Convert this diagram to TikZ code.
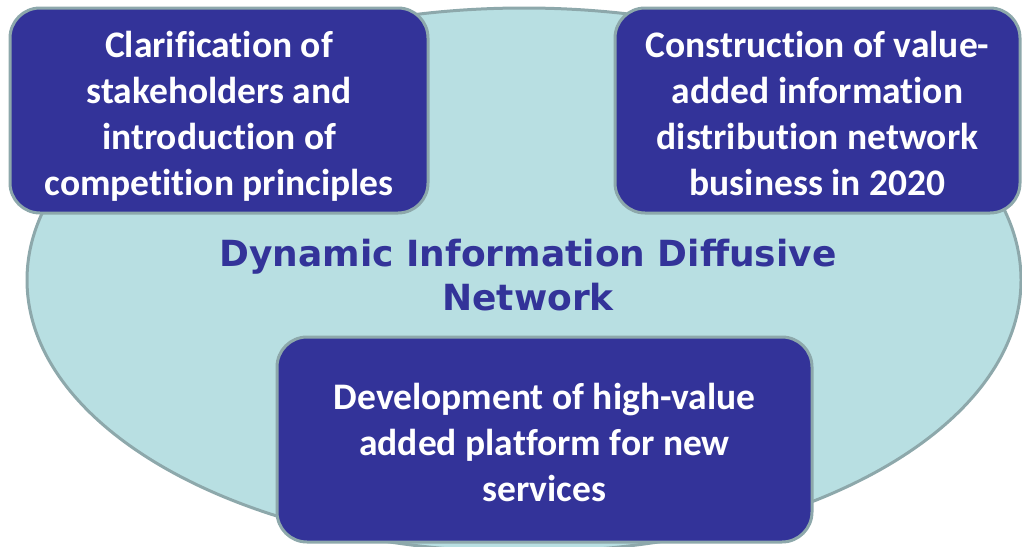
\documentclass[tikz,border=0pt]{standalone}
\usepackage{fontspec}
\usetikzlibrary{shapes.geometric}
\newfontfamily\boxfont[Ligatures={NoCommon,NoRequired,NoContextual}]{Carlito}
\newfontfamily\midfont{DejaVu Sans}
\definecolor{boxblue}{HTML}{333399}
\definecolor{rimgrey}{HTML}{8DA8AB}
\definecolor{pale}{HTML}{B8DFE2}
\tikzset{
  cloud/.style={ellipse, draw=rimgrey, fill=pale, line width=3pt, inner sep=0pt},
  bluebox/.style={rectangle, rounded corners=30pt, draw=rimgrey, fill=boxblue, line width=3pt,
    inner sep=0pt, text=white, align=center,
    font=\boxfont\bfseries\fontsize{37.5}{46}\selectfont},
  midtext/.style={text=boxblue, align=center, inner sep=0pt,
    font=\midfont\bfseries\fontsize{36}{44}\selectfont}
}
\begin{document}
\begin{tikzpicture}[x=1pt,y=-1pt]
\useasboundingbox (0,0) rectangle (1022,546);
\node[cloud, minimum width=994pt, minimum height=544pt] (net) at (524,280) {};
\node[midtext] (title) at (528,275) {Dynamic Information Diffusive\\Network};
\node[bluebox, minimum width=418pt, minimum height=205pt] (clar) at (219,110.5)
  {\rule{0pt}{38pt}Clarification of\\stakeholders and\\introduction of\\competition principles};
\node[bluebox, minimum width=405pt, minimum height=205pt] (cons) at (817.5,110.5)
  {\rule{0pt}{32pt}Construction of value-\\added information\\distribution network\\business in 2020};
\node[bluebox, minimum width=535pt, minimum height=205pt] (dev) at (544.5,439.5)
  {\rule{0pt}{32pt}Development of high-value\\added platform for new\\services};
\end{tikzpicture}
\end{document}
